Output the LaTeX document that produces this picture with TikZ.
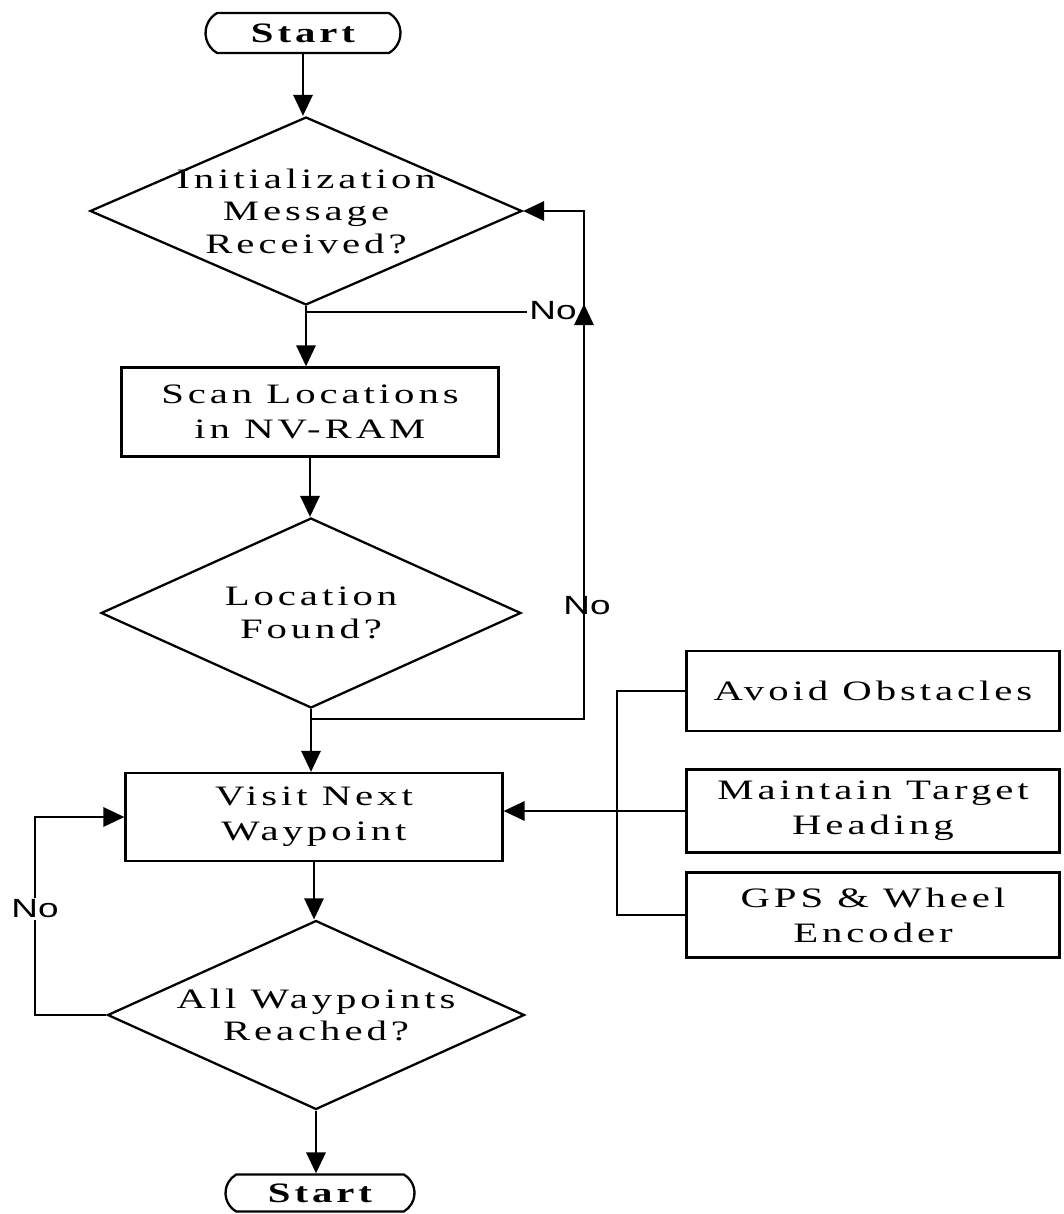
\documentclass[tikz,border=0pt]{standalone}
\usepackage{fontspec}
\setmainfont{Liberation Serif}[FakeStretch=1.45,LetterSpace=14]
\newfontfamily\labfont{Liberation Sans}[FakeStretch=1.4]
\usetikzlibrary{shapes.geometric,shapes.misc,arrows.meta,calc}
\begin{document}
\begin{tikzpicture}[x=0.02cm,y=-0.02cm,
  line width=1.3pt,
  arr/.style={-{Triangle[length=12pt,width=11pt]}},
  box/.style={draw, rectangle, inner sep=0pt, align=center, font=\fontsize{16}{20}\selectfont},
  term/.style={draw, rounded rectangle, rounded rectangle arc length=120, inner sep=0pt, font=\fontsize{16}{18}\selectfont\bfseries},
  dia/.style={draw, diamond, inner sep=0pt},
  dtxt/.style={align=center, font=\fontsize{16}{18.5}\selectfont, inner sep=0pt},
  nolab/.style={font=\labfont\fontsize{15}{17}\selectfont, inner sep=1pt}]
\useasboundingbox (0,0) rectangle (1063,1214);

% main column
\node[term, minimum width=3.9cm, minimum height=0.8cm] (start) at (303,33) {Start};
\node[dia, minimum width=8.64cm, minimum height=3.76cm] (d1) at (306,211) {};
\node[dtxt] (d1t) at (d1) {Initialization\\Message\\Received?};
\node[box, minimum width=7.54cm, minimum height=1.78cm] (scan) at (310,412) {Scan Locations\\in NV-RAM};
\node[dia, minimum width=8.4cm, minimum height=3.8cm] (d2) at (311,613) {};
\node[dtxt] (d2t) at (d2) {Location\\Found?};
\node[box, minimum width=7.54cm, minimum height=1.76cm] (visit) at (314,817) {Visit Next\\Waypoint};
\node[dia, minimum width=8.34cm, minimum height=3.78cm] (d3) at (316,1015) {};
\node[dtxt] (d3t) at (d3) {All Waypoints\\Reached?};
\node[term, minimum width=3.78cm, minimum height=0.74cm] (stop) at (320,1193) {Start};

% right column
\node[box, minimum width=7.46cm, minimum height=1.6cm] (avoid) at (873,691) {Avoid Obstacles};
\node[box, minimum width=7.46cm, minimum height=1.66cm] (maint) at (873,811) {Maintain Target\\Heading};
\node[box, minimum width=7.46cm, minimum height=1.7cm] (gps) at (873,915) {GPS \& Wheel\\Encoder};

% helper coordinates
\coordinate (j1) at ($(d1.south)+(0,6)$);
\coordinate (j2) at ($(d2.south)+(0,10)$);
\coordinate (rx) at (584,0);
\coordinate (lx) at (35,0);
\coordinate (bx) at (617,0);
\coordinate (ua) at (584,334);
\coordinate (ub) at (584,304);

% main arrows
\draw[arr] (start.south) -- (start.south |- d1.north);
\draw[arr] (d1.south) -- (d1.south |- scan.north);
\draw[arr] (scan.south) -- (scan.south |- d2.north);
\draw[arr] (d2.south) -- (d2.south |- visit.north);
\draw[arr] (visit.south) -- (visit.south |- d3.north);
\draw[arr] (d3.south) -- (d3.south |- stop.north);

% No branch from first decision
\node[nolab] (no1) at (553,311) {No};
\draw (j1) -- (j1 -| no1.west);
\draw[arr] (ua) -- (ub);

% No branch from location decision
\draw[arr] (j2) -- (j2 -| rx) -- (rx |- d1.east) -- (d1.east);
\node[nolab] (no2) at (587,606) {No};

% No loop from last decision
\draw[arr] (d3.west) -- (d3.west -| lx) -- (lx |- visit.west) -- (visit.west);
\node[nolab, fill=white] (no3) at (35,909) {No};

% right bus
\draw (avoid.west) -- (avoid.west -| bx) -- (bx |- gps.west) -- (gps.west);
\draw[arr] (maint.west) -- (maint.west -| visit.east);
\end{tikzpicture}
\end{document}
